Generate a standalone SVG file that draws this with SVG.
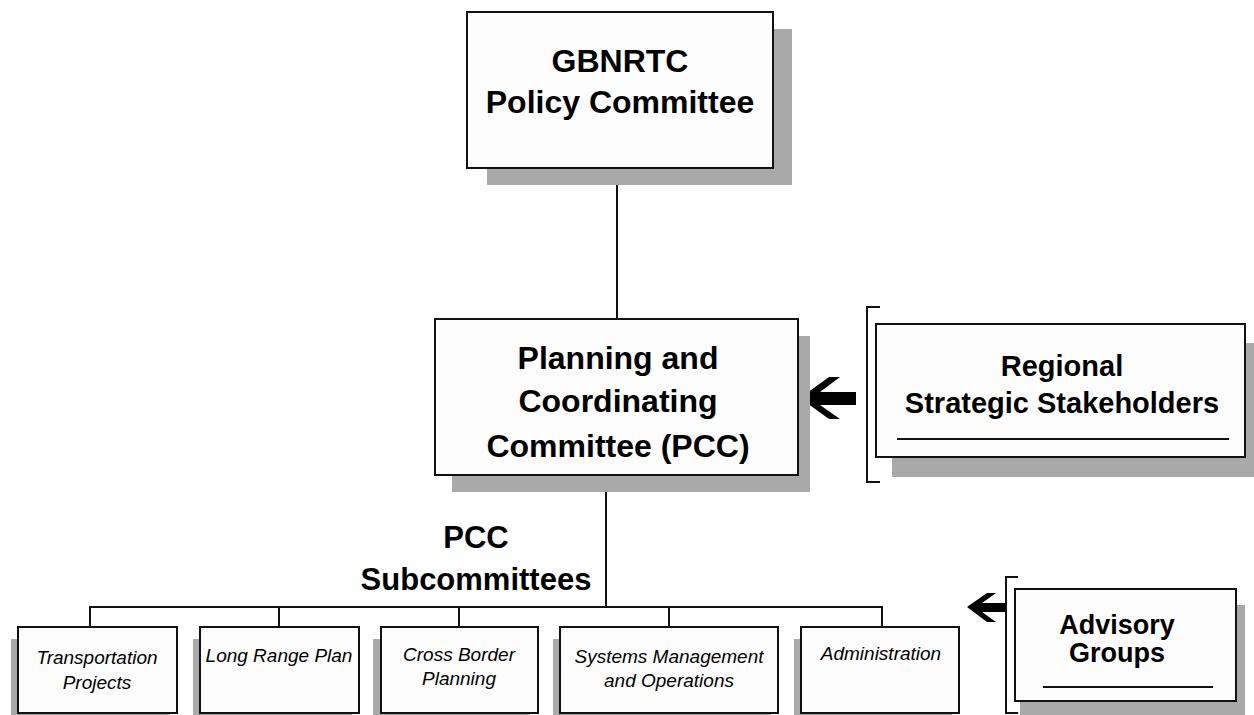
<svg xmlns="http://www.w3.org/2000/svg" width="1254" height="715" viewBox="0 0 1254 715">
<style>
.box{fill:#fdfdfd;stroke:#111;stroke-width:2}
.sh{fill:#a9a9a9}
.ln{stroke:#111;stroke-width:2;fill:none}
.b{font-family:"Liberation Sans",Arial,sans-serif;font-weight:bold;fill:#000;text-anchor:middle}
.i{font-family:"Liberation Sans",Arial,sans-serif;font-style:italic;fill:#000;text-anchor:middle;font-size:19px}
.ar{fill:#000}
</style>
<rect width="1254" height="715" fill="#fff"/>
<g id="connectors">
<line class="ln" x1="617" y1="168" x2="617" y2="319"/>
<line class="ln" x1="606" y1="475" x2="606" y2="607"/>
<polyline class="ln" points="90,627 90,607 882,607 882,627"/>
<line class="ln" x1="279" y1="607" x2="279" y2="627"/>
<line class="ln" x1="459" y1="607" x2="459" y2="627"/>
<line class="ln" x1="669" y1="607" x2="669" y2="627"/>
<polygon class="ar" points="800,398 829,377 840,377 820,392 856,392 856,405 820,405 840,419 829,419"/>
<polygon class="ar" points="967,607 987,593 996,593 982,603 1006,603 1006,612 982,612 996,622 987,622"/>
</g>
<g id="policy">
<rect class="sh" x="487" y="29" width="305" height="156"/>
<rect class="box" x="467" y="12" width="306" height="156"/>
<text class="b" x="620" y="72" font-size="32">GBNRTC</text>
<text class="b" x="620" y="113" font-size="32">Policy Committee</text>
</g>
<g id="pcc">
<rect class="sh" x="452" y="336" width="358" height="156"/>
<rect class="box" x="435" y="319" width="363" height="156"/>
<text class="b" x="618" y="369" font-size="32">Planning and</text>
<text class="b" x="618" y="412" font-size="32">Coordinating</text>
<text class="b" x="618" y="457" font-size="32">Committee (PCC)</text>
</g>
<g id="regional">
<polyline class="ln" points="880,307 867,307 867,482 880,482"/>
<rect class="sh" x="892" y="343" width="362" height="134"/>
<rect class="box" x="876" y="324" width="369" height="133"/>
<text class="b" x="1062" y="376" font-size="29">Regional</text>
<text class="b" x="1062" y="413" font-size="29">Strategic Stakeholders</text>
<line class="ln" x1="897" y1="439" x2="1229" y2="439"/>
</g>
<g id="subcommittees-label">
<text class="b" x="476" y="548" font-size="31">PCC</text>
<text class="b" x="476" y="590" font-size="31">Subcommittees</text>
</g>
<g id="transportation">
<rect class="sh" x="11" y="639" width="159" height="90"/>
<rect class="box" x="18" y="627" width="159" height="86"/>
<text class="i" x="97" y="664">Transportation</text>
<text class="i" x="97" y="689">Projects</text>
</g>
<g id="longrange">
<rect class="sh" x="193" y="639" width="159" height="90"/>
<rect class="box" x="200" y="627" width="159" height="86"/>
<text class="i" x="279" y="662">Long Range Plan</text>
</g>
<g id="crossborder">
<rect class="sh" x="373" y="639" width="157" height="90"/>
<rect class="box" x="381" y="627" width="157" height="86"/>
<text class="i" x="459" y="661">Cross Border</text>
<text class="i" x="459" y="685">Planning</text>
</g>
<g id="systems">
<rect class="sh" x="553" y="639" width="218" height="90"/>
<rect class="box" x="560" y="627" width="218" height="86"/>
<text class="i" x="669" y="663">Systems Management</text>
<text class="i" x="669" y="687">and Operations</text>
</g>
<g id="administration">
<rect class="sh" x="794" y="639" width="158" height="90"/>
<rect class="box" x="801" y="627" width="158" height="86"/>
<text class="i" x="881" y="660">Administration</text>
</g>
<g id="advisory">
<polyline class="ln" points="1018,577 1006,577 1006,713 1018,713"/>
<rect class="sh" x="1020" y="605" width="225" height="120"/>
<rect class="box" x="1015" y="589" width="221" height="112"/>
<text class="b" x="1117" y="634" font-size="27">Advisory</text>
<text class="b" x="1117" y="662" font-size="27">Groups</text>
<line class="ln" x1="1043" y1="687" x2="1213" y2="687"/>
</g>
</svg>
